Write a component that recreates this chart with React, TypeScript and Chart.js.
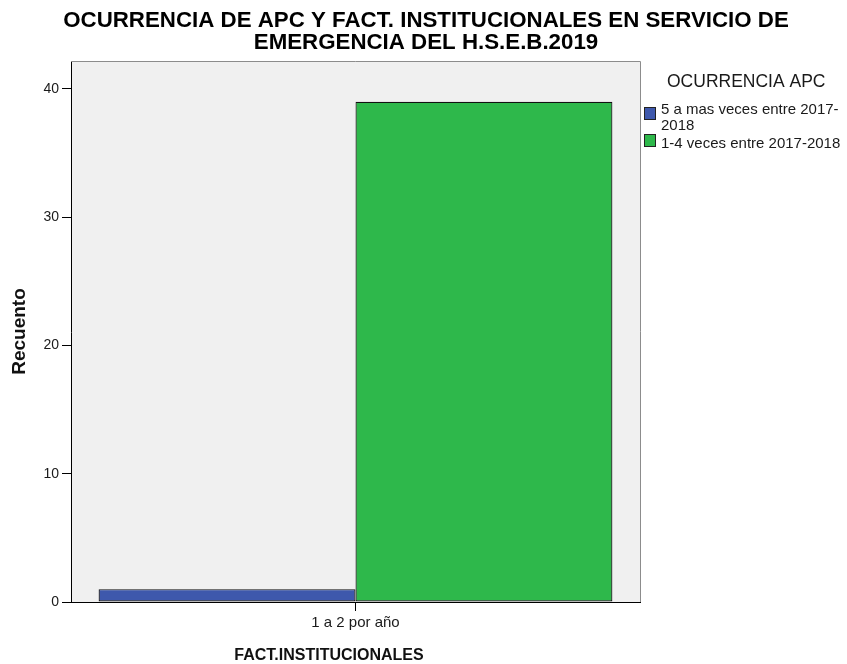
import React, { useEffect, useRef } from "react";
import { Chart, registerables } from "chart.js";

Chart.register(...registerables);

const categories = ["1 a 2 por año"];
const seriesNames = ["5 a mas veces entre 2017-2018", "1-4 veces entre 2017-2018"];
const legendLines = [["5 a mas veces entre 2017-", "2018"], ["1-4 veces entre 2017-2018"]];
const seriesBlue = [1];
const seriesGreen = [39];
const yTicks = [0, 10, 20, 30, 40];
const titleLines = [
  "OCURRENCIA DE APC Y FACT. INSTITUCIONALES EN SERVICIO DE",
  "EMERGENCIA DEL H.S.E.B.2019",
];
const legendTitle = "OCURRENCIA APC";
const xTitle = "FACT.INSTITUCIONALES";
const yTitle = "Recuento";

const FONT = '"Liberation Sans", Arial, sans-serif';
const BLUE = "#3e58ac";
const GREEN = "#2eb84b";
const TEXT = "#1a1a1a";

const decor = {
  id: "decor",
  beforeDraw(chart: any) {
    const { ctx, chartArea: a } = chart;
    ctx.save();
    ctx.fillStyle = "#f0f0f0";
    ctx.fillRect(a.left, a.top, a.right - a.left, a.bottom - a.top);
    ctx.restore();
  },
  afterDraw(chart: any) {
    const { ctx, chartArea: a } = chart;
    ctx.save();
    // frame top/right
    ctx.strokeStyle = "#8c8c8c";
    ctx.lineWidth = 1;
    ctx.beginPath();
    ctx.moveTo(a.left, Math.round(a.top) - 0.5);
    ctx.lineTo(Math.round(a.right) + 0.5, Math.round(a.top) - 0.5);
    ctx.lineTo(Math.round(a.right) + 0.5, a.bottom);
    ctx.stroke();

    // title
    ctx.fillStyle = "#000";
    ctx.font = `bold 22.3px ${FONT}`;
    ctx.textAlign = "center";
    ctx.textBaseline = "alphabetic";
    ctx.fillText(titleLines[0], 426, 27);
    ctx.fillText(titleLines[1], 426, 48.5);

    // axis titles
    ctx.font = `bold 16px ${FONT}`;
    ctx.fillStyle = "#111";
    ctx.fillText(xTitle, 329, 660);
    ctx.save();
    ctx.translate(25, 331.5);
    ctx.rotate(-Math.PI / 2);
    ctx.font = `bold 19px ${FONT}`;
    ctx.fillText(yTitle, 0, 0);
    ctx.restore();

    // legend
    ctx.textAlign = "left";
    ctx.fillStyle = TEXT;
    ctx.font = `17.5px ${FONT}`;
    ctx.fillText(legendTitle, 667, 86.5);
    const colors = [BLUE, GREEN];
    const boxY = [107, 134];
    const baselines = [[114.3, 130], [148.3]];
    ctx.font = `15px ${FONT}`;
    for (let i = 0; i < colors.length; i++) {
      ctx.fillStyle = colors[i];
      ctx.fillRect(644, boxY[i], 12, 13);
      ctx.strokeStyle = "#222";
      ctx.strokeRect(644.5, boxY[i] + 0.5, 11, 12);
      ctx.fillStyle = TEXT;
      legendLines[i].forEach((line, j) => {
        ctx.fillText(line, 661, baselines[i][j]);
      });
    }
    ctx.restore();
  },
};

export default function App() {
  const ref = useRef<HTMLCanvasElement | null>(null);

  useEffect(() => {
    if (!ref.current) return;
    const chart = new Chart(ref.current, {
      type: "bar",
      data: {
        labels: categories,
        datasets: [
          {
            label: seriesNames[0],
            data: seriesBlue,
            backgroundColor: BLUE,
            borderColor: "#111",
            borderWidth: 1.2,
            borderSkipped: false,
            categoryPercentage: 0.903,
            barPercentage: 1,
          },
          {
            label: seriesNames[1],
            data: seriesGreen,
            backgroundColor: GREEN,
            borderColor: "#111",
            borderWidth: 1.2,
            borderSkipped: false,
            categoryPercentage: 0.903,
            barPercentage: 1,
          },
        ],
      },
      options: {
        responsive: false,
        animation: false,
        layout: { padding: { top: 62, right: 207, left: 0, bottom: 0 } },
        plugins: {
          legend: { display: false },
          tooltip: { enabled: false },
          title: { display: false },
        },
        scales: {
          x: {
            offset: true,
            grid: {
              display: true,
              drawOnChartArea: false,
              drawTicks: true,
              tickLength: 9,
              color: "#000",
              offset: false,
            },
            border: { display: true, color: "#000", width: 1 },
            ticks: { color: TEXT, font: { family: FONT, size: 15 }, padding: 3 },
            afterFit(s: any) {
              s.height = 62;
            },
          },
          y: {
            min: 0,
            max: 42.1,
            afterBuildTicks(s: any) {
              s.ticks = yTicks.map((v) => ({ value: v }));
            },
            grid: {
              display: true,
              drawOnChartArea: false,
              drawTicks: true,
              tickLength: 9,
              color: "#000",
            },
            border: { display: true, color: "#000", width: 1 },
            ticks: { color: TEXT, font: { family: FONT, size: 14 }, padding: 3 },
            afterFit(s: any) {
              s.width = 71;
            },
          },
        },
      } as any,
      plugins: [decor],
    });
    return () => chart.destroy();
  }, []);

  return (
    <div style={{ position: "fixed", left: 0, top: 0, width: 847, height: 664, background: "#fff" }}>
      <canvas ref={ref} width={847} height={664} style={{ display: "block" }} />
    </div>
  );
}
